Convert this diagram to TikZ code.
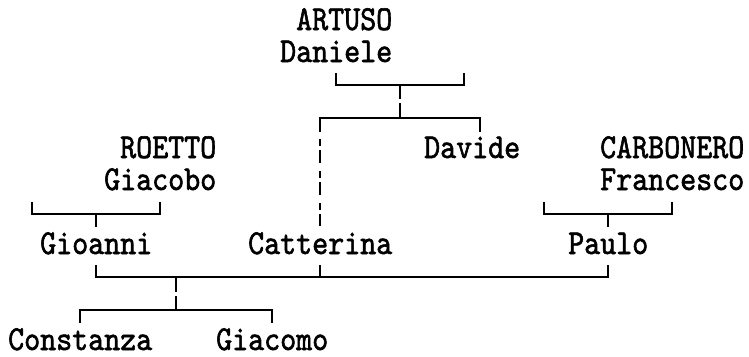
\documentclass[tikz,border=0pt]{standalone}
\usepackage{fontspec}
\newfontfamily\kinfont[FakeBold=1.6,FakeStretch=0.871]{lmmono10-regular.otf}
\begin{document}
\begin{tikzpicture}[x=1pt,y=-1pt,
  person/.style={anchor=base west, inner sep=0pt, font=\kinfont\fontsize{35pt}{36pt}\selectfont},
  kin/.style={line width=2pt},
  kindash/.style={kin, dash pattern=on 7pt off 4pt on 13pt off 8pt}]
\useasboundingbox (0,0) rectangle (749,356);
% people
\node[person] (artuso)    at (296,30)  {ARTUSO};
\node[person] (daniele)   at (280,62)  {Daniele};
\node[person] (roetto)    at (120,158) {ROETTO};
\node[person] (davide)    at (424,158) {Davide};
\node[person] (carbonero) at (600,158) {CARBONERO};
\node[person] (giacobo)   at (104,190) {Giacobo};
\node[person] (francesco) at (600,190) {Francesco};
\node[person] (gioanni)   at (40,254)  {Gioanni};
\node[person] (catterina) at (248,254) {Catterina};
\node[person] (paulo)     at (568,254) {Paulo};
\node[person] (constanza) at (8,350)   {Constanza};
\node[person] (giacomo)   at (216,350) {Giacomo};
% junction points
\coordinate (dL) at (336,73);  \coordinate (dR) at (464,73);
\coordinate (dJ) at (400,85);  \coordinate (dJe) at (400,99);
\coordinate (sJs) at (400,103); \coordinate (sJ) at (400,118);
\coordinate (cTop) at (320,132); \coordinate (dvTop) at (480,132);
\coordinate (cD1) at (320,139); \coordinate (cD2) at (320,226);
\coordinate (gL) at (32,202);  \coordinate (gR) at (160,202);
\coordinate (gJ) at (96,214);  \coordinate (gS) at (96,227);
\coordinate (pL) at (544,202); \coordinate (pR) at (672,202);
\coordinate (pJ) at (608,214); \coordinate (pS) at (608,227);
\coordinate (m1) at (96,265);  \coordinate (m2) at (320,265);
\coordinate (m3) at (608,265); \coordinate (mC) at (320,277);
\coordinate (mJ) at (176,277); \coordinate (mJe) at (176,292);
\coordinate (kJs) at (176,296); \coordinate (kJ) at (176,310);
\coordinate (k1) at (80,323);  \coordinate (k2) at (272,323);
% connectors
\draw[kin] (dL) |- (dJ) -| (dR);
\draw[kin] (dJ) -- (dJe);
\draw[kin] (sJs) -- (sJ);
\draw[kin] (cTop) |- (sJ) -| (dvTop);
\draw[kindash] (cD1) -- (cD2);
\draw[kin] (gL) |- (gJ) -| (gR);
\draw[kin] (gJ) -- (gS);
\draw[kin] (pL) |- (pJ) -| (pR);
\draw[kin] (pJ) -- (pS);
\draw[kin] (m1) |- (mJ) -| (m3);
\draw[kin] (m2) -- (mC);
\draw[kin] (mJ) -- (mJe);
\draw[kin] (kJs) -- (kJ);
\draw[kin] (k1) |- (kJ) -| (k2);
\end{tikzpicture}
\end{document}
